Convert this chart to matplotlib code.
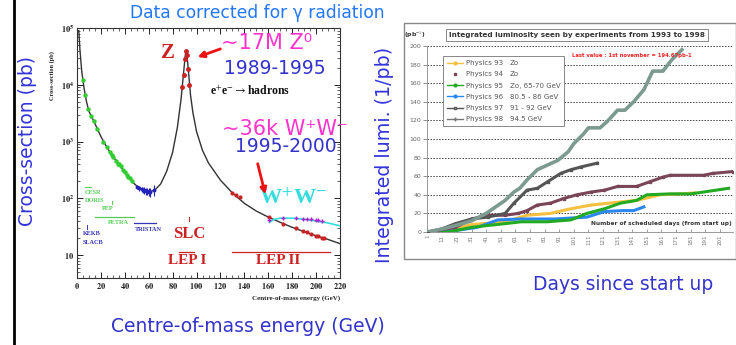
import matplotlib.pyplot as plt
from matplotlib.lines import Line2D
from matplotlib.patches import Rectangle

W, H = 736, 345


def fx(x):
    return x / W


def fy(y):
    return 1 - y / H


# ---- left picture: e+e- -> hadrons cross-section (pb) vs energy (GeV)
curve_E = [1.5, 2.5, 4, 6, 8, 10, 14, 20, 25, 30, 35, 40, 45, 50, 55, 60, 65, 70,
           75, 80, 84, 87, 89, 90.5, 91.2, 92, 93.5, 95, 97, 100, 105, 110, 120,
           130, 140, 150, 160, 170, 180, 190, 200, 210, 220]
curve_sig = [90000, 40000, 17000, 8500, 5000, 3400, 2300, 1230, 790, 550, 400, 290,
             210, 165, 140, 130, 140, 180, 300, 650, 1800, 5500, 15000, 32000, 40000,
             33000, 15000, 6500, 3200, 1500, 700, 420, 210, 125, 82, 60, 47, 38, 31,
             26, 22, 19, 16]
ww_E = [161, 165, 170, 180, 190, 200, 210, 220]
ww_sig = [38, 43, 45, 45, 43, 40, 37, 33]

green_E = [5, 7, 9.4, 12, 14, 17, 22, 25, 27.5, 29, 30.5, 33, 34.5, 35, 36.5, 38.3,
           40, 41.5, 43, 44.2, 46]
green_sig = [12000, 6500, 3800, 2800, 2300, 1650, 1000, 790, 650, 590, 530, 450, 410,
             400, 370, 320, 290, 260, 240, 225, 200]
blue_E = [50, 52, 54, 55, 56, 57.5, 58.5, 60, 61.4, 64]
blue_sig = [160, 150, 145, 140, 140, 135, 135, 130, 130, 140]
blue_err = [15, 15, 15, 15, 18, 20, 20, 20, 25, 30]
zpeak_E = [88.2, 89.2, 90.2, 91.2, 92.0, 93.0, 94.0]
zpeak_sig = [9000, 15000, 28000, 40000, 33000, 19000, 10000]
lep2_E = [130, 133, 136, 161, 172, 183, 189, 192, 196, 200, 202, 205, 207]
lep2_sig = [125, 115, 106, 47, 36, 30, 27, 26, 24, 22, 21.5, 20.5, 20]
wwpts_E = [161, 172, 183, 189, 192, 196, 200, 202, 205]
wwpts_sig = [42, 45, 45, 44, 44, 43, 41, 41, 40]

# ---- right picture: integrated luminosity per year
days_93 = [1, 20, 31, 54, 69, 85, 99, 113, 131, 144, 160, 174, 184]
lumi_93 = [0, 4, 8, 11, 18, 20, 25, 29, 32, 34, 40, 41, 42]
days_94 = [1, 8, 20, 31, 42, 54, 63, 69, 76, 85, 94, 103, 113, 122, 131, 144, 153,
           162, 167, 190, 196, 210]
lumi_94 = [0, 2, 5, 14, 18, 18, 20, 23, 29, 31, 36, 40, 43, 45, 49, 49, 54, 59, 61,
           61, 63, 65]
days_95 = [1, 15, 31, 42, 54, 65, 83, 99, 110, 122, 133, 144, 151, 167, 181, 190, 207]
lumi_95 = [0, 0, 5, 7, 9, 11, 11, 13, 20, 25, 31, 34, 40, 41, 41, 43, 47]
days_96 = [1, 8, 22, 35, 42, 49, 65, 88, 110, 122, 135, 142, 149]
lumi_96 = [0, 0, 2, 5, 9, 13, 14, 14, 16, 22, 23, 23, 27]
days_97 = [1, 10, 20, 31, 42, 54, 60, 69, 76, 83, 92, 99, 106, 117]
lumi_97 = [0, 3, 9, 14, 16, 20, 31, 45, 47, 54, 63, 67, 70, 74]
days_98 = [1, 10, 20, 31, 41, 54, 60, 64, 69, 76, 83, 90, 97, 101, 108, 111, 119,
           124, 131, 136, 142, 149, 155, 162, 168, 175]
lumi_98 = [0, 3, 7, 12, 20, 34, 43, 47, 56, 67, 72, 77, 86, 95, 106, 112, 112, 119,
           131, 131, 140, 153, 173, 173, 185, 196]

series_names = ['Physics 93', 'Physics 94', 'Physics 95', 'Physics 96',
                'Physics 97', 'Physics 98']
series_notes = ['Zo', 'Zo', 'Zo, 65-70 GeV', '80.5 - 86 GeV', '91 - 92 GeV',
                '94.5 GeV']
day_ticks = list(range(1, 202, 10))

plt.rcParams['font.family'] = 'DejaVu Sans'
plt.rcParams['mathtext.fontset'] = 'stix'

fig = plt.figure(figsize=(7.36, 3.45), dpi=100)
fig.patch.set_facecolor('white')

# ================= left chart =================
ax1 = fig.add_axes([fx(77), fy(278), 263 / W, 250 / H])
ax1.set_yscale('log')
ax1.set_xlim(0, 220)
ax1.set_ylim(10 ** 0.6, 1e5)
ax1.plot(curve_E, curve_sig, color='#333333', lw=1.0, zorder=3)
ax1.plot(ww_E, ww_sig, color='#33dddd', lw=1.2, zorder=3)
ax1.plot(green_E, green_sig, 'o', color='#33cc33', ms=2.2, zorder=4)
ax1.errorbar(blue_E, blue_sig, yerr=blue_err, xerr=0.6, fmt='o', color='#2222bb',
             ms=1.8, lw=0.8, capsize=0, zorder=4)
ax1.plot(zpeak_E, zpeak_sig, 'o', color='#cc2222', ms=2.5, zorder=4)
ax1.plot(lep2_E, lep2_sig, 'o', color='#cc2222', ms=2.0, zorder=4)
ax1.plot(wwpts_E, wwpts_sig, '+', color='#aa22cc', ms=3.5, mew=1.0, zorder=4)

ax1.set_xticks(range(0, 221, 20))
ax1.set_xticks(range(0, 221, 5), minor=True)
ax1.set_xticklabels([r'$\mathbf{%d}$' % v for v in range(0, 221, 20)])
ax1.set_yticks([10, 1e2, 1e3, 1e4, 1e5])
ax1.set_yticklabels([r'$\mathbf{10}$', r'$\mathbf{10^{2}}$', r'$\mathbf{10^{3}}$',
                     r'$\mathbf{10^{4}}$', r'$\mathbf{10^{5}}$'])
ax1.tick_params(which='both', direction='in', top=True, right=True, labelsize=6,
                colors='#222222', pad=2)
ax1.tick_params(which='major', length=4, width=0.7)
ax1.tick_params(which='minor', length=2, width=0.5)
for sp in ax1.spines.values():
    sp.set_color('#333333')
    sp.set_linewidth(0.8)

serif = 'Liberation Serif'
ax1.text(76, 10 ** 4.56, 'Z', color='#cc2222', fontsize=15, family=serif,
         weight='bold', ha='center', va='center')
ax1.text(111, 10 ** 3.88, r'e$^{+}$e$^{-}$$\rightarrow$hadrons', color='#111111',
         fontsize=8.5, family=serif, weight='bold', ha='left', va='center')
ax1.text(181, 10 ** 2.0, r'W$^{+}$W$^{-}$', color='#33dddd', fontsize=16,
         family=serif, weight='bold', ha='center', va='center')
ax1.text(6.5, 10 ** 2.1, 'CESR', color='#55cc55', fontsize=4.5, family=serif,
         weight='bold', va='center')
ax1.text(6.5, 10 ** 1.96, 'DORIS', color='#55cc55', fontsize=4.5, family=serif,
         weight='bold', va='center')
ax1.text(26, 10 ** 1.82, 'PEP', color='#55cc55', fontsize=4.5, family=serif,
         weight='bold', va='center', ha='center')
ax1.text(26, 10 ** 1.57, 'PETRA', color='#55cc55', fontsize=4.5, family=serif,
         weight='bold', va='center')
ax1.text(5, 10 ** 1.39, 'KEKB', color='#3333bb', fontsize=4.5, family=serif,
         weight='bold', va='center')
ax1.text(5, 10 ** 1.23, 'SLACB', color='#3333bb', fontsize=4.5, family=serif,
         weight='bold', va='center')
ax1.text(48, 10 ** 1.45, 'TRISTAN', color='#3333bb', fontsize=4.5, family=serif,
         weight='bold', va='center')
ax1.text(93.5, 10 ** 1.38, 'SLC', color='#cc2222', fontsize=12, family=serif,
         weight='bold', va='center', ha='center')
ax1.text(92, 10 ** 0.9, 'LEP I', color='#cc2222', fontsize=11, family=serif,
         weight='bold', va='center', ha='center')
ax1.text(168, 10 ** 0.9, 'LEP II', color='#cc2222', fontsize=11, family=serif,
         weight='bold', va='center', ha='center')
# machine energy ranges
ax1.plot([6.5, 12], [10 ** 2.2] * 2, color='#55cc55', lw=0.7)
ax1.plot([15, 48], [10 ** 1.68] * 2, color='#55cc55', lw=0.9)
ax1.plot([29, 29], [10 ** 1.9, 10 ** 1.96], color='#55cc55', lw=0.7)
ax1.plot([48, 66], [10 ** 1.56] * 2, color='#3333bb', lw=0.9)
ax1.plot([8.5, 8.5], [10 ** 1.47, 10 ** 1.53], color='#3333bb', lw=0.7)
ax1.plot([93.5, 93.5], [10 ** 1.6, 10 ** 1.67], color='#cc2222', lw=0.7)
ax1.plot([85, 98], [10 ** 1.06] * 2, color='#cc2222', lw=0.9)
ax1.plot([130, 212], [10 ** 1.06] * 2, color='#cc2222', lw=0.9)

ax1.text(-0.095, 0.81, 'Cross-section (pb)', transform=ax1.transAxes, rotation=90,
         fontsize=4.5, family=serif, weight='bold', ha='center', va='center',
         color='#222222')
ax1.text(1.0, -0.08, 'Centre-of-mass energy (GeV)', transform=ax1.transAxes,
         fontsize=5, family=serif, weight='bold', ha='right', va='center',
         color='#222222')

# ================= right chart =================
fig.add_artist(Rectangle((fx(404), fy(259)), (W - 404) / W, (259 - 23) / H,
                         transform=fig.transFigure, facecolor='white',
                         edgecolor='#888888', lw=1.0, zorder=0))
ax2 = fig.add_axes([fx(427), fy(232), 306 / W, 186 / H])
ax2.set_xlim(0.5, 210)
ax2.set_ylim(0, 200)
ax2.plot(days_93, lumi_93, color='#f5c040', lw=2.2, zorder=3)
ax2.plot(days_96, lumi_96, color='#2a86f0', lw=2.2, zorder=3)
ax2.plot(days_95, lumi_95, color='#22aa22', lw=2.2, zorder=3)
ax2.plot(days_94, lumi_94, color='#7a4556', lw=2.2, marker='s', ms=1.5, zorder=3)
ax2.plot(days_97, lumi_97, color='#555555', lw=2.2, marker='s', ms=1.5, zorder=3)
ax2.plot(days_98, lumi_98, color='#7c9a90', lw=2.6, zorder=3)

ax2.set_yticks(range(0, 201, 20))
ax2.set_xticks(day_ticks)
ax2.set_xticklabels([str(d) for d in day_ticks], rotation=90)
ax2.tick_params(axis='y', labelsize=4.5, colors='#666666', length=3, width=0.5,
                pad=1)
ax2.tick_params(axis='x', labelsize=4, colors='#777777', length=2, width=0.5,
                pad=2, direction='in')
ax2.grid(axis='y', linestyle=(0, (1.5, 1.5)), color='#444444', lw=0.7)
ax2.set_axisbelow(True)
for name in ['top', 'right']:
    ax2.spines[name].set_visible(False)
for name in ['left', 'bottom']:
    ax2.spines[name].set_color('#999999')
    ax2.spines[name].set_linewidth(0.7)

handles = [
    Line2D([], [], color='#f5c040', marker='o', ms=2, lw=1),
    Line2D([], [], color='#7a4556', marker='s', ms=2, lw=0),
    Line2D([], [], color='#22aa22', marker='o', ms=2, lw=1),
    Line2D([], [], color='#2a86f0', marker='o', ms=2, lw=1),
    Line2D([], [], color='#555555', marker='s', ms=2, mfc='white', lw=1),
    Line2D([], [], color='#777777', marker='+', ms=3, lw=1),
]
blank = [Line2D([], [], lw=0) for _ in series_notes]
leg = ax2.legend(handles + blank, series_names + series_notes, ncol=2,
                 loc='upper left', bbox_to_anchor=(0.042, 0.965), fontsize=5,
                 labelcolor='#555555', frameon=True, fancybox=False,
                 edgecolor='#888888', framealpha=1, handlelength=2.2,
                 handletextpad=0.4, columnspacing=-1.6, labelspacing=0.75,
                 borderpad=0.6)
leg.get_frame().set_linewidth(0.7)

ax2.text(0.67, 0.95, 'Last value : 1st november = 194.67pb-1',
         transform=ax2.transAxes, fontsize=3.8, color='#ee2222', weight='bold',
         ha='center', va='center')
ax2.text(0.995, 0.045, 'Number of scheduled days (from start up)',
         transform=ax2.transAxes, fontsize=4.2, color='#333333', weight='bold',
         ha='right', va='center', zorder=5,
         bbox=dict(facecolor='white', edgecolor='none', pad=0.5))
fig.text(fx(577), fy(35), 'Integrated luminosity seen by experiments from 1993 to 1998',
         fontsize=5.2, weight='bold', color='#333333', ha='center', va='center',
         bbox=dict(facecolor='white', edgecolor='#888888', lw=0.7, pad=2.5))
fig.text(fx(415), fy(35), '(pb$^{-1}$)', fontsize=4.5, weight='bold',
         color='#333333', ha='center', va='center')

# ================= slide overlay =================
fig.add_artist(Line2D([fx(14), fx(14)], [0, 1], color='black', lw=2,
                      transform=fig.transFigure))
fig.text(fx(257), fy(13), 'Data corrected for γ radiation', fontsize=12.3,
         color='#2277ff', ha='center', va='center')
fig.text(fx(267), fy(43), '~17M Z⁰', fontsize=15, color='#ff33cc', ha='center',
         va='center')
fig.text(fx(275), fy(68), '1989-1995', fontsize=13.5, color='#3333cc',
         ha='center', va='center')
fig.text(fx(285), fy(129), '~36k W⁺W⁻', fontsize=15, color='#ff33cc',
         ha='center', va='center')
fig.text(fx(286), fy(147), '1995-2000', fontsize=13.5, color='#3333cc',
         ha='center', va='center')
fig.text(fx(28), fy(141), 'Cross-section (pb)', fontsize=13.5, color='#3333dd',
         rotation=90, ha='center', va='center')
fig.text(fx(248), fy(327), 'Centre-of-mass energy (GeV)', fontsize=13.5,
         color='#3333cc', ha='center', va='center')
fig.text(fx(385), fy(155), 'Integrated lumi. (1/pb)', fontsize=13.7,
         color='#3333dd', rotation=90, ha='center', va='center')
fig.text(fx(623), fy(285), 'Days since start up', fontsize=13.4, color='#3333cc',
         ha='center', va='center')

ax1.annotate('', xy=(fx(195), fy(58)), xytext=(fx(223), fy(48)),
             xycoords='figure fraction', textcoords='figure fraction',
             arrowprops=dict(arrowstyle='-|>', color='#ee1111', lw=2,
                             mutation_scale=9), annotation_clip=False)
ax1.annotate('', xy=(fx(266), fy(197)), xytext=(fx(257), fy(161)),
             xycoords='figure fraction', textcoords='figure fraction',
             arrowprops=dict(arrowstyle='-|>', color='#ee1111', lw=2,
                             mutation_scale=9), annotation_clip=False)

fig.savefig('out.png', dpi=100)
